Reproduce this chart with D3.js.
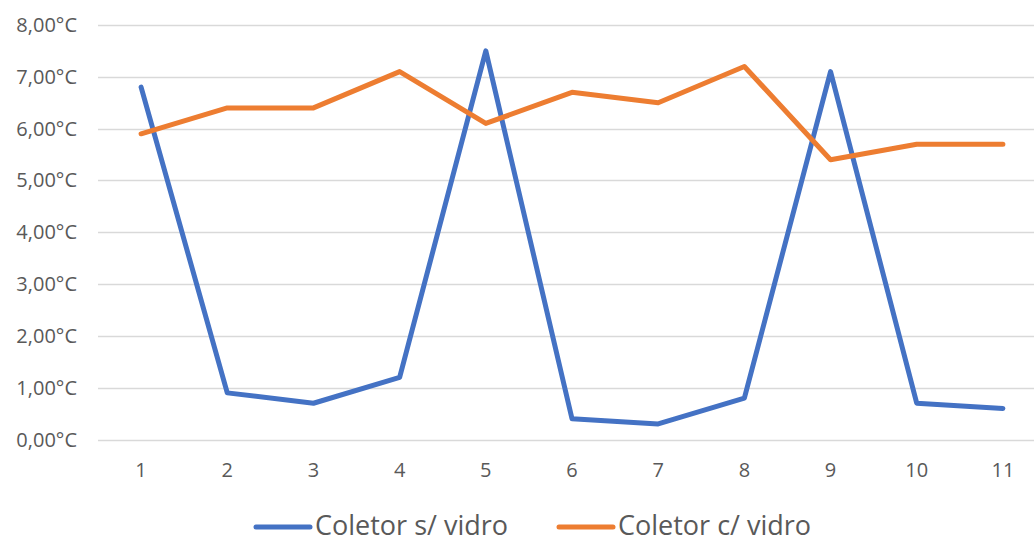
<!DOCTYPE html>
<html>
<head>
<meta charset="utf-8">
<script src="https://cdn.jsdelivr.net/npm/d3@7"></script>
<style>
  body { margin: 0; background: #fff; }
  text { font-family: "Open Sans", sans-serif; fill: #595959; }
</style>
</head>
<body>
<div id="chart"></div>
<script>
// data
var categories = ["1", "2", "3", "4", "5", "6", "7", "8", "9", "10", "11"];
var semVidro = [6.8, 0.9, 0.7, 1.2, 7.5, 0.4, 0.3, 0.8, 7.1, 0.7, 0.6];
var comVidro = [5.9, 6.4, 6.4, 7.1, 6.1, 6.7, 6.5, 7.2, 5.4, 5.7, 5.7];
var yTicks = [0, 1, 2, 3, 4, 5, 6, 7, 8];
var seriesNames = ["Coletor s/ vidro", "Coletor c/ vidro"];
var colors = ["#4472C4", "#ED7D31"];

var svgWidth = 1034;
var svgHeight = 543;

var svg = d3.select("#chart")
  .append("svg")
  .attr("width", svgWidth)
  .attr("height", svgHeight);

var x = d3.scaleBand()
  .domain(categories)
  .range([98, 1046]);

var y = d3.scaleLinear()
  .domain([0, 8])
  .range([439.5, 25]);

// gridlines
svg.append("g")
  .selectAll("line")
  .data(yTicks)
  .enter()
  .append("line")
  .attr("x1", 98)
  .attr("x2", svgWidth)
  .attr("y1", d => Math.round(y(d)) + 0.5)
  .attr("y2", d => Math.round(y(d)) + 0.5)
  .attr("stroke", "#D9D9D9")
  .attr("stroke-width", 1.5);

// y labels
svg.append("g")
  .selectAll("text")
  .data(yTicks)
  .enter()
  .append("text")
  .attr("x", 77)
  .attr("y", d => y(d))
  .attr("dy", "0.35em")
  .attr("text-anchor", "end")
  .attr("font-size", 20)
  .text(d => d3.format(".2f")(d).replace(".", ",") + "°C");

// x labels
svg.append("g")
  .selectAll("text")
  .data(categories)
  .enter()
  .append("text")
  .attr("x", d => x(d) + x.bandwidth() / 2)
  .attr("y", 477)
  .attr("text-anchor", "middle")
  .attr("font-size", 20)
  .text(d => d);

var line = d3.line()
  .x((d, i) => x(categories[i]) + x.bandwidth() / 2)
  .y(d => y(d));

[semVidro, comVidro].forEach(function(values, i) {
  svg.append("path")
    .datum(values)
    .attr("d", line)
    .attr("fill", "none")
    .attr("stroke", colors[i])
    .attr("stroke-width", 5)
    .attr("stroke-linejoin", "round")
    .attr("stroke-linecap", "round");
});

// legend (kept a few px above the bottom edge so the text isn't clipped)
var legendX = [256, 559];
seriesNames.forEach(function(name, i) {
  svg.append("line")
    .attr("x1", legendX[i])
    .attr("x2", legendX[i] + 54)
    .attr("y1", 527)
    .attr("y2", 527)
    .attr("stroke", colors[i])
    .attr("stroke-width", 5)
    .attr("stroke-linecap", "round");
  svg.append("text")
    .attr("x", legendX[i] + 59)
    .attr("y", 535)
    .attr("font-size", 27)
    .text(name);
});
</script>
</body>
</html>
